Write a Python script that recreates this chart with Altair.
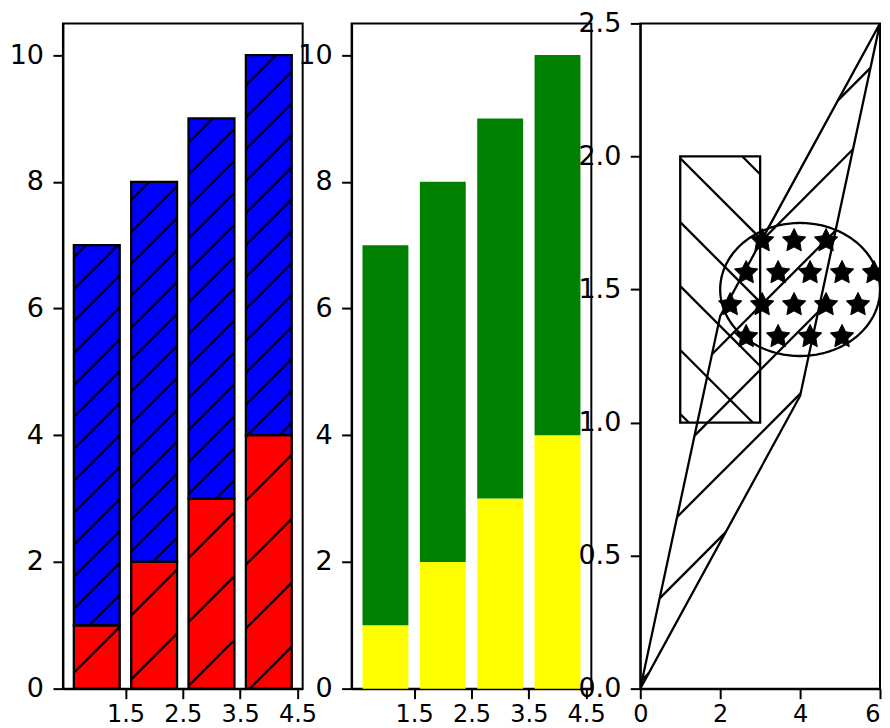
import altair as alt
import numpy as np
import pandas as pd

# ---------------- data ----------------
bar_pos = [1, 2, 3, 4]
bottom_vals = [1, 2, 3, 4]
top_vals = [6, 6, 6, 6]
bar_xticks = [1.5, 2.5, 3.5, 4.5]
bar_yticks = [0, 2, 4, 6, 8, 10]

rect_x = [1, 3]
rect_y = [1, 2]
ell_center = [4, 1.5]
ell_size = [4, 0.5]
poly_x = [0, 4, 6, 2]
poly_y = [0, 1.1, 2.5, 1.4]
p3_xticks = [0, 2, 4, 6]
p3_yticks = [0.0, 0.5, 1.0, 1.5, 2.0, 2.5]

# ---------------- layout / style ----------------
W, H = 240, 666
BAR_W = 0.8
BAR_XDOM = [0.41, 4.59]
BAR_YDOM = [0, 10.5]
P3_XDOM = [0, 6]
P3_YDOM = [0, 2.5]
FONT = "DejaVu Sans"
LW = 2.3


def to_px(x, y, xd, yd):
    return ((x - xd[0]) / (xd[1] - xd[0]) * W,
            H - (y - yd[0]) / (yd[1] - yd[0]) * H)


def to_data(X, Y, xd, yd):
    return (xd[0] + X / W * (xd[1] - xd[0]),
            yd[0] + (H - Y) / H * (yd[1] - yd[0]))


def hatch(poly, xd, yd, kind, spacing, phase):
    pts = [to_px(x, y, xd, yd) for x, y in poly]
    if kind == "/":
        f = lambda p: p[0] + p[1]
    else:
        f = lambda p: p[1] - p[0]
    vals = [f(p) for p in pts]
    cmin, cmax = min(vals), max(vals)
    c = phase + np.ceil((cmin - phase) / spacing) * spacing
    segs = []
    n = len(pts)
    while c <= cmax:
        inter = []
        for i in range(n):
            P, Q = pts[i], pts[(i + 1) % n]
            a, b = vals[i], vals[(i + 1) % n]
            if a == b:
                continue
            t = (c - a) / (b - a)
            if 0 <= t <= 1:
                inter.append((P[0] + t * (Q[0] - P[0]), P[1] + t * (Q[1] - P[1])))
        if len(inter) >= 2:
            inter.sort()
            (X1, Y1), (X2, Y2) = inter[0], inter[-1]
            if abs(X2 - X1) > 0.5:
                x1, y1 = to_data(X1, Y1, xd, yd)
                x2, y2 = to_data(X2, Y2, xd, yd)
                segs.append(dict(x=x1, y=y1, x2=x2, y2=y2))
        c += spacing
    return segs


def xsc(dom):
    return alt.Scale(domain=dom, nice=False, zero=False)


def X(field, dom, ticks, fmt, **kw):
    return alt.X(field, type="quantitative", scale=xsc(dom),
                 axis=alt.Axis(values=ticks, format=fmt, title=None, **kw))


def Y(field, dom, ticks, fmt):
    return alt.Y(field, type="quantitative", scale=xsc(dom),
                 axis=alt.Axis(values=ticks, format=fmt, title=None))


# ---------------- bar tables ----------------
rows = []
for p, b, t in zip(bar_pos, bottom_vals, top_vals):
    rows.append(dict(x0=p - BAR_W / 2, x1=p + BAR_W / 2, y0=0, y1=b, part="bottom"))
    rows.append(dict(x0=p - BAR_W / 2, x1=p + BAR_W / 2, y0=b, y1=b + t, part="top"))
bars = pd.DataFrame(rows)

hatch_rows = []
for r in rows:
    poly = [(r["x0"], r["y0"]), (r["x1"], r["y0"]), (r["x1"], r["y1"]), (r["x0"], r["y1"])]
    sp = 64 if r["part"] == "bottom" else 32
    hatch_rows += hatch(poly, BAR_XDOM, BAR_YDOM, "/", sp, 21)
bar_hatch = pd.DataFrame(hatch_rows)


def bar_panel(colors, edges):
    base = alt.Chart(bars)
    fill = base.mark_rect(strokeWidth=0).encode(
        x=X("x0", BAR_XDOM, bar_xticks, ".1f"), x2="x1",
        y=Y("y0", BAR_YDOM, bar_yticks, "d"), y2="y1",
        color=alt.Color("part:N", scale=alt.Scale(domain=["bottom", "top"], range=colors), legend=None),
    )
    layers = [fill]
    if edges:
        hl = alt.Chart(bar_hatch).mark_rule(color="black", strokeWidth=LW).encode(
            x=X("x", BAR_XDOM, bar_xticks, ".1f"), x2="x2",
            y=Y("y", BAR_YDOM, bar_yticks, "d"), y2="y2",
        )
        outline = base.mark_rect(filled=False, stroke="black", strokeWidth=LW).encode(
            x=X("x0", BAR_XDOM, bar_xticks, ".1f"), x2="x1",
            y=Y("y0", BAR_YDOM, bar_yticks, "d"), y2="y1",
        )
        layers += [hl, outline]
    return alt.layer(*layers).properties(width=W, height=H)


p1 = bar_panel(["#ff0000", "#0000ff"], True)
p2 = bar_panel(["#ffff00", "#008000"], False)

# ---------------- panel 3 ----------------
rect_df = pd.DataFrame(dict(x0=[rect_x[0]], x1=[rect_x[1]], y0=[rect_y[0]], y1=[rect_y[1]]))
rect_poly = [(rect_x[0], rect_y[0]), (rect_x[1], rect_y[0]), (rect_x[1], rect_y[1]), (rect_x[0], rect_y[1])]
pg_poly = list(zip(poly_x, poly_y))
p3_hatch = pd.DataFrame(
    hatch(rect_poly, P3_XDOM, P3_YDOM, "\\", 64, 31) + hatch(pg_poly, P3_XDOM, P3_YDOM, "/", 64, 19)
)

tt = np.linspace(0, 2 * np.pi, 241)
ell_df = pd.DataFrame(dict(
    x=ell_center[0] + ell_size[0] / 2 * np.cos(tt),
    y=ell_center[1] + ell_size[1] / 2 * np.sin(tt),
    o=np.arange(len(tt)),
))
pg_df = pd.DataFrame(dict(x=poly_x + [poly_x[0]], y=poly_y + [poly_y[0]], o=range(len(poly_x) + 1)))

# star hatch grid (pixel pattern), kept where the centre lies in the ellipse
stars = []
for k in range(0, 25):
    Yp = 25.7 + 32 * k
    if Yp > H:
        break
    ph = 26 if k % 2 == 0 else 10
    Xp = ph
    while Xp <= W:
        sx, sy = to_data(Xp, Yp, P3_XDOM, P3_YDOM)
        if ((sx - ell_center[0]) / (ell_size[0] / 2)) ** 2 + ((sy - ell_center[1]) / (ell_size[1] / 2)) ** 2 < 1:
            stars.append(dict(x=sx, y=sy))
        Xp += 32
star_df = pd.DataFrame(stars)

ang = np.deg2rad(-90 + 36 * np.arange(10))
rad = np.where(np.arange(10) % 2 == 0, 1.0, 0.5)
star_path = "M" + " L".join(f"{r * np.cos(a):.4f},{r * np.sin(a):.4f}" for r, a in zip(rad, ang)) + " Z"

last_right = {"condition": {"test": "datum.value == 6", "value": "right"}, "value": "center"}


def X3(f):
    return X(f, P3_XDOM, p3_xticks, "d", labelAlign=last_right)


def Y3(f):
    return Y(f, P3_YDOM, p3_yticks, ".1f")


l_rect = alt.Chart(rect_df).mark_rect(filled=False, stroke="black", strokeWidth=LW).encode(
    x=X3("x0"), x2="x1", y=Y3("y0"), y2="y1")
l_hatch = alt.Chart(p3_hatch).mark_rule(color="black", strokeWidth=LW).encode(
    x=X3("x"), x2="x2", y=Y3("y"), y2="y2")
l_ell = alt.Chart(ell_df).mark_line(color="black", strokeWidth=LW, clip=True).encode(
    x=X3("x"), y=Y3("y"), order="o:Q")
l_pg = alt.Chart(pg_df).mark_line(color="black", strokeWidth=LW, strokeJoin="miter", clip=True).encode(
    x=X3("x"), y=Y3("y"), order="o:Q")
l_star = alt.Chart(star_df).mark_point(shape=star_path, filled=True, fill="black", stroke="black",
                                       strokeWidth=1, size=605, opacity=1, clip=True).encode(
    x=X3("x"), y=Y3("y"))

p3 = alt.layer(l_rect, l_hatch, l_ell, l_pg, l_star).properties(width=W, height=H)

chart = alt.hconcat(p1, p2, p3, spacing=49, bounds="flush").resolve_scale(
    color="independent"
).properties(
    padding={"left": 0, "top": 0, "right": 0, "bottom": 0}
).configure_axis(
    labelFont=FONT, labelColor="black",
    tickColor="black", tickSize=10, tickWidth=2,
    domainColor="black", domainWidth=2,
    grid=False, labelFlush=False, labelOverlap=False, zindex=1,
).configure_axisX(
    labelFontSize=24, labelPadding=4,
).configure_axisY(
    labelFontSize=27, labelPadding=9.5,
).configure_view(stroke="black", strokeWidth=2)

chart.save("out.html", embed_options={"renderer": "svg", "actions": False})
